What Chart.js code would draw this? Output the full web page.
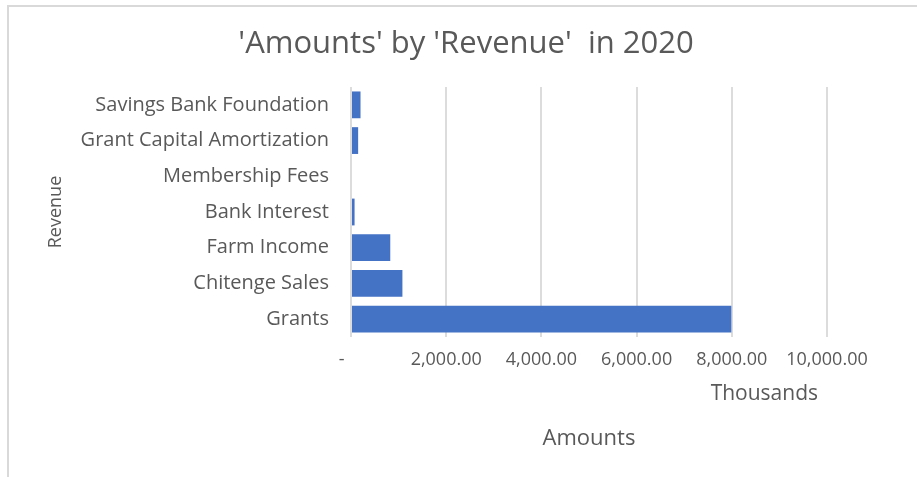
<!DOCTYPE html>
<html>
<head>
<meta charset="utf-8">
<script src="https://cdn.jsdelivr.net/npm/chart.js@4.4.0/dist/chart.umd.min.js"></script>
<style>
  body { margin: 0; background: #fff; }
  #wrap { position: relative; width: 917px; height: 477px; }
  #frame {
    position: absolute; left: 7px; top: 5px; right: 0; bottom: 0;
    border-top: 2px solid #d9d9d9; border-left: 2px solid #d9d9d9;
    pointer-events: none;
  }
</style>
</head>
<body>
<div id="wrap">
  <canvas id="chart" width="917" height="477"></canvas>
  <div id="frame"></div>
</div>
<script>
// revenue lines, bottom row first
const categories = [
  "Grants",
  "Chitenge Sales",
  "Farm Income",
  "Bank Interest",
  "Membership Fees",
  "Grant Capital Amortization",
  "Savings Bank Foundation",
];
// amounts for 2020
const amounts = [7990000, 1080000, 825000, 75000, 0, 150000, 200000];
const axisMax = 10000000;
const axisStep = 2000000;

const chartTitle = "'Amounts' by 'Revenue'  in 2020";
const textGrey = "#595959";
const font = "Open Sans";

// accounting style: zero shows as a dash sitting left of the tick
function fmtThousands(v) {
  if (v === 0) return "-    ";
  return (v / 1000).toLocaleString("en-US", {
    minimumFractionDigits: 2,
    maximumFractionDigits: 2,
  });
}

// title centred on the whole frame, plus the "Thousands" display unit
const extraText = {
  id: "extraText",
  afterDraw(chart) {
    const ctx = chart.ctx;
    const x = chart.scales.x;
    ctx.save();
    ctx.fillStyle = textGrey;
    ctx.textBaseline = "middle";
    ctx.textAlign = "center";
    ctx.font = "31px " + font;
    ctx.fillText(chartTitle, 466, 44);
    ctx.textAlign = "right";
    ctx.font = "21px " + font;
    ctx.fillText("Thousands", x.right - 9, 394);
    ctx.restore();
  },
};

const ctx = document.getElementById("chart").getContext("2d");
const revenueChart = new Chart(ctx, {
  type: "bar",
  data: {
    labels: categories,
    datasets: [
      {
        label: "Amounts",
        data: amounts,
        backgroundColor: "#4472C4",
        barPercentage: 0.75,
        categoryPercentage: 1,
      },
    ],
  },
  options: {
    indexAxis: "y",
    responsive: false,
    animation: false,
    layout: { padding: { top: 87, left: 45, right: 90, bottom: 25 } },
    plugins: {
      legend: { display: false },
      tooltip: { enabled: false },
      title: { display: false },
    },
    scales: {
      x: {
        min: 0,
        max: axisMax,
        ticks: {
          stepSize: axisStep,
          color: textGrey,
          font: { family: font, size: 18 },
          padding: 12,
          maxRotation: 0,
          callback: (v) => fmtThousands(v),
        },
        grid: { color: "#dcdcdc", lineWidth: 2, drawTicks: false },
        border: { display: false },
        title: {
          display: true,
          text: "Amounts",
          color: textGrey,
          font: { family: font, size: 22 },
          padding: { top: 0, bottom: 0 },
        },
        afterFit(scale) {
          scale.height = 477 - 25 - 337;
        },
      },
      y: {
        reverse: true,
        ticks: {
          color: textGrey,
          font: { family: font, size: 20 },
          padding: 22,
        },
        grid: { display: false, drawTicks: false },
        border: { display: false },
        title: {
          display: true,
          text: "Revenue",
          color: textGrey,
          font: { family: font, size: 18 },
          padding: 0,
        },
        afterFit(scale) {
          scale.width = 351 - 45;
        },
      },
    },
  },
  plugins: [extraText],
});
</script>
</body>
</html>
